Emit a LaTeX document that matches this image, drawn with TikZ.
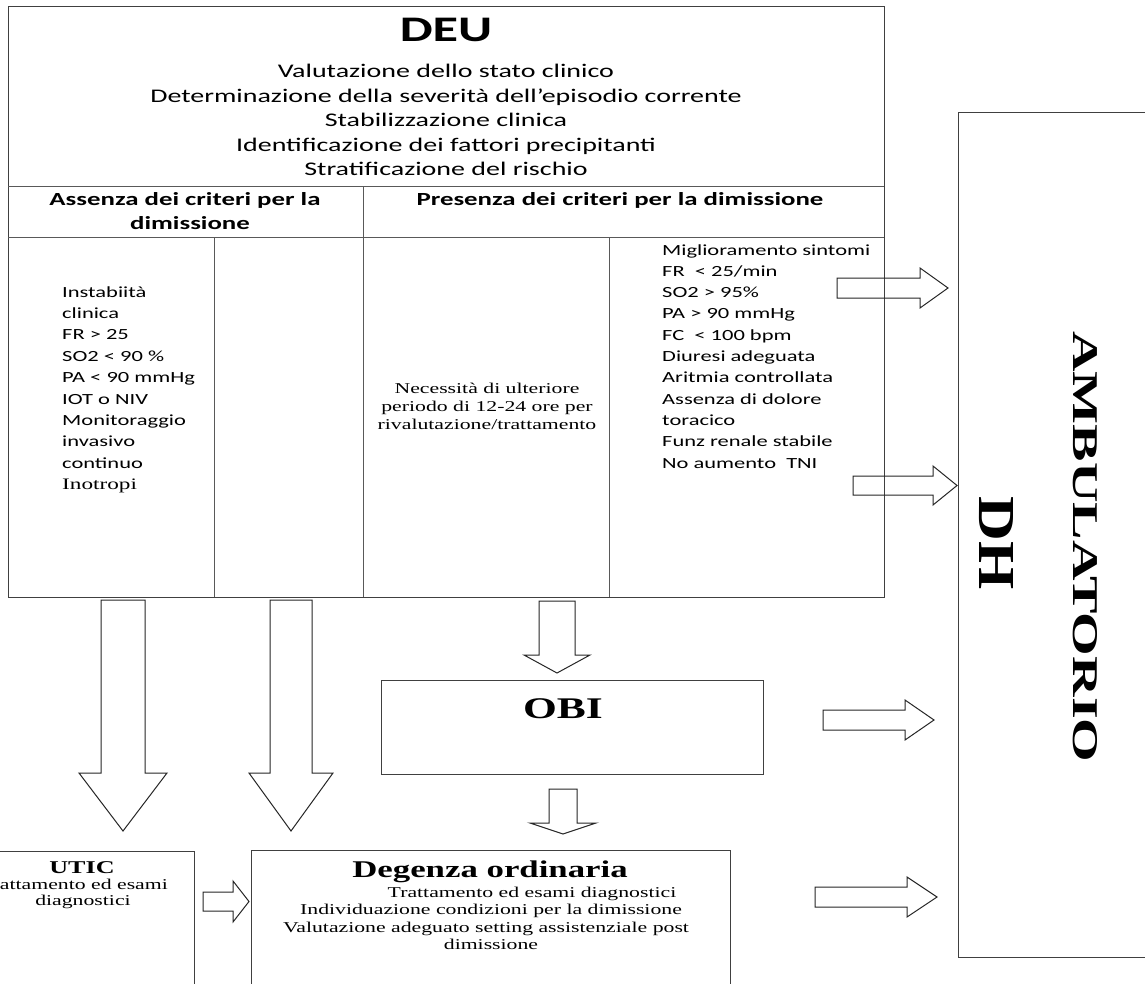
\documentclass[tikz,border=0pt]{standalone}
\usepackage{graphicx}
\usepackage{fontspec}
\newfontfamily\calf{Carlito}[FakeStretch=1.45]
\newfontfamily\timf{Liberation Serif}[FakeStretch=1.45]
\newcommand\fs[2]{\fontsize{#1}{#2}\selectfont}
\tikzset{
  box/.style={draw=black!75, line width=1.2pt, inner sep=0pt, anchor=north west},
  tline/.style={draw=black!65, line width=1pt},
  barrow/.style={draw=black!85, line width=1pt, line join=miter},
  ctext/.style={font=\calf\fs{15.5}{18}, inner sep=0pt, anchor=base west},
  stext/.style={font=\timf\fs{15}{18}, inner sep=0pt},
}
% right block arrow: x0, yc, x shaft end, x tip, shaft half, head half
\newcommand\barR[6]{\draw[barrow] (#1,#2-#5) -- (#3,#2-#5) -- (#3,#2-#6) -- (#4,#2) -- (#3,#2+#6) -- (#3,#2+#5) -- (#1,#2+#5) -- cycle;}
% down block arrow: xc, y0, y shaft end, y tip, shaft half, head half
\newcommand\barD[6]{\draw[barrow] (#1-#5,#2) -- (#1-#5,#3) -- (#1-#6,#3) -- (#1,#4) -- (#1+#6,#3) -- (#1+#5,#3) -- (#1+#5,#2) -- cycle;}
\begin{document}
\begin{tikzpicture}[x=1pt,y=-1pt]
\clip (0,0) rectangle (1145,984);
\fill[white] (0,0) rectangle (1145,984);
% ---------- DEU table ----------
\node[box, minimum width=876pt, minimum height=591pt] (deu) at (8,6) {};
\draw[tline] (8,187) -- (884,187);
\draw[tline] (8,238) -- (884,238);
\draw[tline] (363,187) -- (363,597);
\draw[tline] (214,238) -- (214,597);
\draw[tline] (609,238) -- (609,597);
\node[font=\calf\bfseries\fs{36}{40}, inner sep=0pt] (deut) at (446,30) {DEU};
\foreach \t [count=\i] in {Valutazione dello stato clinico, Determinazione della severità dell’episodio corrente, Stabilizzazione clinica, Identificazione dei fattori precipitanti, Stratificazione del rischio}
  \node[font=\calf\fs{19.3}{22}, inner sep=0pt, anchor=base] (sub\i) at (446,78+24.5*\i-24.5) {\t};
\node[font=\calf\bfseries\fs{18.5}{20}, inner sep=0pt, anchor=base] (h1a) at (185,206) {Assenza dei criteri per la};
\node[font=\calf\bfseries\fs{18.5}{20}, inner sep=0pt, anchor=base] (h1b) at (190,230) {dimissione};
\node[font=\calf\bfseries\fs{18.5}{20}, inner sep=0pt, anchor=base] (h2) at (620,206) {Presenza dei criteri per la dimissione};
\foreach \t [count=\i] in {Instabiità, clinica, FR > 25, SO2 < 90 \%, PA < 90 mmHg, IOT o NIV, Monitoraggio, invasivo, continuo}
  \node[ctext] (ca\i) at (62,297+21.4*\i-21.4) {\t};
\node[font=\timf\fs{16}{18}, inner sep=0pt, anchor=base west] (ca10) at (62,297+21.4*9) {Inotropi};
\node[stext, align=center] (c3) at (487,406) {Necessità di ulteriore\\periodo di 12-24 ore per\\rivalutazione/trattamento};
\foreach \t [count=\i] in {Miglioramento sintomi, FR\ \ < 25/min, SO2 > 95\%, PA > 90 mmHg, FC\ \ < 100 bpm, Diuresi adeguata, Aritmia controllata, Assenza di dolore, toracico, Funz renale stabile, No aumento\ \ TNI}
  \node[ctext] (cd\i) at (662,255+21.3*\i-21.3) {\t};
% ---------- OBI ----------
\node[box, minimum width=382pt, minimum height=94pt] (obi) at (381,680) {};
\node[font=\timf\bfseries\fs{30}{32}, inner sep=0pt] (obit) at (563,709) {OBI};
% ---------- Degenza ----------
\node[box, minimum width=479pt, minimum height=150pt] (deg) at (251,850) {};
\node[font=\timf\bfseries\fs{24}{26}, inner sep=0pt] (degt) at (490,872) {Degenza ordinaria};
\node[stext, anchor=base] (dg1) at (532,897) {Trattamento ed esami diagnostici};
\node[stext, anchor=base] (dg2) at (491,914) {Individuazione condizioni per la dimissione};
\node[stext, anchor=base] (dg3) at (486,932) {Valutazione adeguato setting assistenziale post};
\node[stext, anchor=base] (dg4) at (491,949) {dimissione};
% ---------- UTIC ----------
\node[box, minimum width=204pt, minimum height=150pt] (utic) at (-10,851) {};
\node[font=\timf\bfseries\fs{18}{20}, inner sep=0pt] (utict) at (82,868) {UTIC};
\node[stext, anchor=base] (ut1) at (74,889) {Trattamento ed esami};
\node[stext, anchor=base] (ut2) at (83,905) {diagnostici};
% ---------- AMBULATORIO / DH ----------
\node[box, minimum width=200pt, minimum height=845pt] (amb) at (958,112) {};
\node[rotate=-90, inner sep=0pt] (ambt) at (1085,547) {\resizebox{431pt}{24pt}{\timf\bfseries AMBULATORIO}};
\node[rotate=-90, inner sep=0pt] (dht) at (996,543) {\resizebox{93pt}{34pt}{\timf\bfseries DH}};
% ---------- block arrows ----------
\barD{123}{600}{773}{831}{22}{44}
\barD{291}{600}{773}{831}{21}{42}
\barD{557}{601}{655}{673}{18}{33}
\barD{563}{789}{823}{834}{14}{33}
\barR{837}{288}{920}{948}{10}{20}
\barR{853}{485.5}{933}{957}{9.5}{19.5}
\barR{823}{720}{905}{934}{10}{20}
\barR{815}{897}{907}{937}{10}{20}
\barR{203}{901.5}{233}{249}{9.5}{20.5}
\end{tikzpicture}
\end{document}
